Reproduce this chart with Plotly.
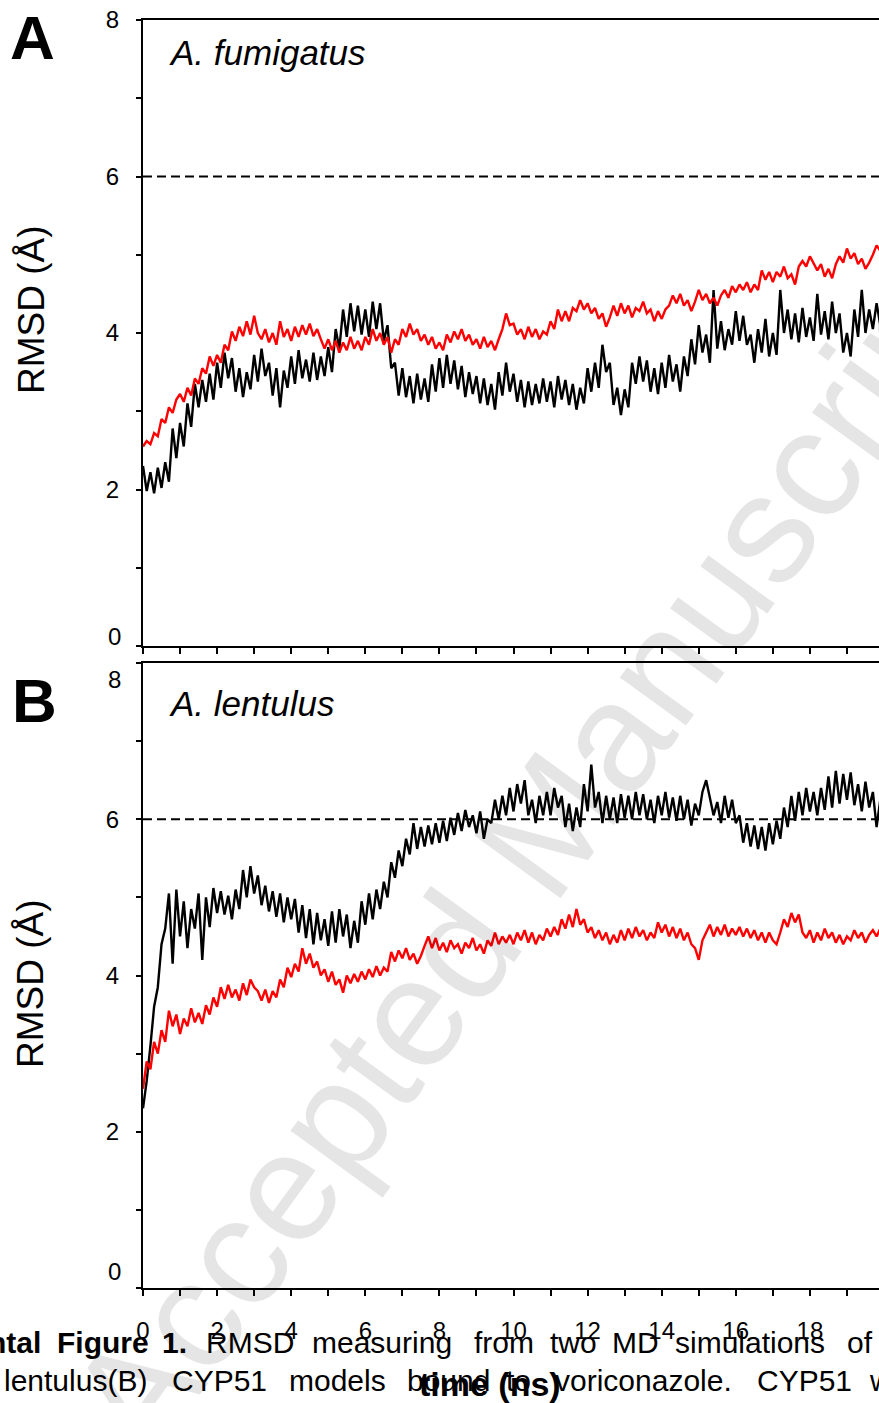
import plotly.graph_objects as go

# ---------------- data ----------------
time_ns = [round(i * 0.1, 1) for i in range(200)]

a_black = [2.30,1.98,2.22,1.95,2.28,2.02,2.35,2.10,2.78,2.40,
 2.85,2.55,3.10,2.80,3.35,3.05,3.40,3.12,3.48,3.15,
 3.62,3.30,3.75,3.42,3.68,3.25,3.55,3.18,3.50,3.28,
 3.72,3.38,3.80,3.45,3.62,3.20,3.55,3.05,3.52,3.30,
 3.70,3.35,3.78,3.42,3.66,3.38,3.75,3.40,3.70,3.45,
 3.82,3.50,4.05,3.80,4.30,3.95,4.38,4.02,4.35,3.98,
 4.30,3.95,4.40,4.05,4.38,3.90,4.10,3.55,3.62,3.20,
 3.55,3.18,3.45,3.10,3.48,3.15,3.42,3.12,3.60,3.25,
 3.68,3.30,3.72,3.35,3.65,3.28,3.58,3.18,3.50,3.22,
 3.45,3.10,3.42,3.08,3.35,3.02,3.50,3.20,3.62,3.25,
 3.48,3.12,3.40,3.05,3.38,3.08,3.35,3.10,3.42,3.12,
 3.38,3.05,3.45,3.15,3.40,3.08,3.35,3.02,3.30,3.10,
 3.55,3.25,3.62,3.30,3.85,3.50,3.62,3.08,3.30,2.95,
 3.28,3.05,3.62,3.35,3.70,3.38,3.65,3.25,3.55,3.22,
 3.62,3.30,3.72,3.38,3.60,3.25,3.70,3.45,3.92,3.60,
 4.10,3.75,3.98,3.62,4.55,3.80,4.15,3.78,4.05,3.85,
 4.28,3.90,4.22,3.85,3.98,3.62,4.05,3.75,4.18,3.70,
 4.00,3.72,4.55,4.00,4.30,3.92,4.25,3.88,4.32,3.95,
 4.20,3.90,4.50,3.98,4.28,3.92,4.40,4.00,4.25,3.75,
 4.00,3.70,4.30,3.95,4.55,4.00,4.30,4.05,4.38,4.10]

a_red = [2.55,2.62,2.58,2.72,2.68,2.90,2.85,3.05,2.98,3.15,
 3.22,3.12,3.30,3.20,3.42,3.35,3.55,3.48,3.70,3.58,
 3.72,3.62,3.85,3.78,4.02,3.90,4.08,3.96,4.15,3.98,
 4.22,4.00,3.92,4.05,3.88,4.00,3.85,4.15,3.95,4.05,
 3.90,4.08,3.95,4.10,3.98,4.12,3.96,4.05,3.92,3.80,
 3.92,3.78,3.90,3.75,3.88,3.78,3.95,3.80,3.90,3.78,
 3.95,3.85,4.05,3.90,4.00,3.85,3.95,3.75,3.92,3.85,
 4.05,3.95,4.12,3.98,4.05,3.90,3.98,3.85,3.95,3.80,
 3.88,3.78,3.98,3.88,4.02,3.92,4.05,3.90,3.98,3.85,
 3.92,3.80,3.95,3.82,3.90,3.78,3.92,4.05,4.25,4.10,
 4.12,3.98,4.05,3.92,4.08,3.95,4.05,3.92,4.02,3.98,
 4.15,4.05,4.30,4.15,4.28,4.15,4.32,4.28,4.42,4.30,
 4.38,4.25,4.32,4.18,4.25,4.08,4.20,4.35,4.22,4.38,
 4.25,4.35,4.20,4.32,4.28,4.40,4.25,4.30,4.15,4.28,
 4.18,4.30,4.35,4.48,4.38,4.50,4.35,4.42,4.28,4.40,
 4.55,4.42,4.50,4.38,4.45,4.35,4.48,4.55,4.45,4.60,
 4.52,4.62,4.55,4.65,4.52,4.62,4.55,4.80,4.68,4.78,
 4.65,4.78,4.72,4.85,4.70,4.75,4.62,4.85,4.92,4.85,
 4.98,4.88,4.80,4.88,4.72,4.82,4.70,4.88,4.98,4.90,
 5.08,4.95,5.02,4.88,4.95,4.82,4.90,5.00,5.12,5.05]

b_black = [2.30,2.65,3.10,3.60,3.85,4.40,4.60,5.05,4.15,5.10,
 4.50,4.95,4.35,4.85,4.60,5.05,4.20,5.00,4.62,5.12,
 4.80,5.08,4.78,5.02,4.72,5.10,4.85,5.35,5.00,5.40,
 5.05,5.28,4.90,5.15,4.82,5.08,4.75,5.05,4.68,5.00,
 4.72,4.98,4.55,4.90,4.48,4.85,4.40,4.80,4.45,4.72,
 4.38,4.82,4.42,4.85,4.50,4.78,4.35,4.70,4.42,4.95,
 4.65,5.05,4.72,5.10,4.85,5.20,5.00,5.45,5.25,5.60,
 5.40,5.75,5.55,5.95,5.62,5.90,5.65,5.92,5.68,5.95,
 5.70,5.98,5.72,6.02,5.80,6.08,5.85,6.12,5.90,6.05,
 5.82,6.10,5.75,6.00,5.95,6.25,6.00,6.30,6.05,6.40,
 6.10,6.45,6.20,6.50,6.05,6.25,5.95,6.30,6.05,6.35,
 6.05,6.40,6.15,6.30,5.90,6.20,5.85,6.15,5.90,6.45,
 6.10,6.70,6.15,6.35,5.95,6.30,6.00,6.28,5.95,6.32,
 6.02,6.30,6.00,6.35,6.05,6.32,6.00,6.25,5.95,6.30,
 6.05,6.35,6.02,6.28,5.98,6.30,6.00,6.25,5.92,6.20,
 6.05,6.35,6.50,6.25,6.05,6.22,5.95,6.30,6.02,6.25,
 5.95,6.05,5.70,5.95,5.65,5.92,5.62,5.90,5.60,5.95,
 5.68,5.98,5.75,6.15,5.90,6.30,5.98,6.35,6.05,6.40,
 6.10,6.35,6.05,6.40,6.12,6.55,6.15,6.62,6.20,6.58,
 6.25,6.60,6.18,6.45,6.10,6.48,6.15,6.35,5.90,6.25]

b_red = [2.55,2.90,2.80,3.15,3.00,3.30,3.15,3.55,3.35,3.50,
 3.25,3.45,3.35,3.58,3.40,3.52,3.38,3.62,3.50,3.72,
 3.60,3.85,3.70,3.88,3.72,3.82,3.68,3.90,3.75,3.95,
 3.85,3.80,3.68,3.82,3.65,3.80,3.72,3.95,3.85,4.10,
 3.98,4.15,4.05,4.35,4.15,4.28,4.10,4.18,4.00,4.08,
 3.92,4.05,3.88,3.95,3.78,4.00,3.90,4.02,3.92,4.05,
 3.95,4.08,3.98,4.12,4.00,4.10,4.05,4.30,4.18,4.32,
 4.22,4.35,4.20,4.28,4.15,4.25,4.38,4.50,4.35,4.48,
 4.32,4.42,4.30,4.45,4.35,4.40,4.28,4.42,4.35,4.48,
 4.32,4.40,4.28,4.45,4.38,4.55,4.40,4.50,4.42,4.52,
 4.40,4.55,4.45,4.58,4.42,4.55,4.40,4.52,4.45,4.60,
 4.50,4.62,4.52,4.72,4.60,4.78,4.62,4.85,4.65,4.72,
 4.55,4.62,4.48,4.58,4.45,4.55,4.40,4.52,4.42,4.58,
 4.45,4.60,4.48,4.62,4.50,4.58,4.45,4.55,4.48,4.68,
 4.55,4.65,4.50,4.62,4.48,4.60,4.45,4.55,4.40,4.35,
 4.20,4.45,4.55,4.65,4.50,4.62,4.52,4.65,4.50,4.60,
 4.52,4.62,4.50,4.60,4.48,4.58,4.45,4.55,4.42,4.55,
 4.45,4.40,4.55,4.72,4.62,4.80,4.68,4.78,4.55,4.48,
 4.58,4.42,4.55,4.45,4.60,4.48,4.55,4.42,4.52,4.40,
 4.50,4.45,4.58,4.48,4.55,4.42,4.52,4.58,4.50,4.60]

threshold = 6
y_tick_vals = [0, 2, 4, 6, 8]
a_tick_text = ["", "2", "4", "6", "8"]      # "0" of panel A is drawn slightly raised
b_tick_text = ["", "2", "4", "6", ""]       # "0" and "8" of panel B are drawn nudged
panel_titles = ["A. fumigatus", "A. lentulus"]
panel_letters = ["A", "B"]
y_title = "RMSD (Å)"
x_title = "time (ns)"
caption_line1_bold = [("ntal", 43, "right"), ("Figure", 55, "left"), ("1.", 160, "left")]
caption_line1 = [("RMSD", 204), ("measuring", 310), ("from", 472), ("two", 548),
                 ("MD", 610), ("simulations", 673), ("of", 845)]
caption_line2 = [("lentulus(B)", 2), ("CYP51", 170), ("models", 287), ("bound", 405),
                 ("to", 504), ("voriconazole.", 553), ("CYP51", 755), ("w", 867)]
watermark = "Accepted Manuscript"

# ---------------- layout geometry ----------------
W, H = 879, 1403
L, T, B = 143, 20, 115
PW, PH = W - L, H - T - B
XMAX = PW / 37.05
FONT = "Liberation Sans, Arial, Helvetica, sans-serif"


def px(xp):
    return (xp - L) / PW


def py(yp):
    return (H - B - yp) / PH


LW = 2.4
fig = go.Figure()
fig.add_trace(go.Scatter(x=time_ns, y=a_black, mode="lines", line=dict(color="#000000", width=LW),
                         xaxis="x", yaxis="y", showlegend=False))
fig.add_trace(go.Scatter(x=time_ns, y=a_red, mode="lines", line=dict(color="#ff0000", width=LW),
                         xaxis="x", yaxis="y", showlegend=False))
fig.add_trace(go.Scatter(x=time_ns, y=b_black, mode="lines", line=dict(color="#000000", width=LW),
                         xaxis="x2", yaxis="y2", showlegend=False))
fig.add_trace(go.Scatter(x=time_ns, y=b_red, mode="lines", line=dict(color="#ff0000", width=LW),
                         xaxis="x2", yaxis="y2", showlegend=False))

xcommon = dict(range=[0, XMAX], showline=True, linewidth=2, linecolor="black", mirror=True,
               ticks="outside", ticklen=6, tickwidth=2, tickcolor="black", tick0=0, dtick=2,
               minor=dict(dtick=1, ticks="outside", ticklen=6, tickwidth=2, tickcolor="black", showgrid=False),
               showgrid=False, zeroline=False, domain=[0, 1],
               tickfont=dict(family=FONT, size=24, color="black"))
ycommon = dict(range=[0, 8], showline=True, linewidth=2, linecolor="black",
               ticks="outside", ticklen=5, tickwidth=2, tickcolor="black",
               tickmode="array", tickvals=y_tick_vals,
               minor=dict(dtick=1, tick0=0, ticks="outside", ticklen=5, tickwidth=2, tickcolor="black", showgrid=False),
               showgrid=False, zeroline=False, ticklabelstandoff=12,
               tickfont=dict(family=FONT, size=24, color="black"))

fig.update_layout(
    width=W, height=H,
    margin=dict(l=L, r=0, t=T, b=B),
    paper_bgcolor="white", plot_bgcolor="white",
    xaxis=dict(**xcommon, anchor="y", showticklabels=False),
    yaxis=dict(**ycommon, anchor="x", domain=[py(646), 1.0], ticktext=a_tick_text),
    xaxis2=dict(**xcommon, anchor="y2", showticklabels=True, ticklabelstandoff=14),
    yaxis2=dict(**ycommon, anchor="x2", domain=[0.0, py(663)], ticktext=b_tick_text),
    font=dict(family=FONT, color="black"),
)

for yref in ["y", "y2"]:
    xref = "x" if yref == "y" else "x2"
    fig.add_shape(type="line", xref=xref, yref=yref, x0=0, x1=20, y0=threshold, y1=threshold,
                  line=dict(color="black", width=2, dash="9px,5px"), layer="below")

ann = []
# nudged tick labels
ann.append(dict(text=str(y_tick_vals[0]), x=px(123), y=py(636), xanchor="right", font=dict(size=24)))
ann.append(dict(text=str(y_tick_vals[4]), x=px(123), y=py(679), xanchor="right", font=dict(size=24)))
ann.append(dict(text=str(y_tick_vals[0]), x=px(123), y=py(1271), xanchor="right", font=dict(size=24)))
# panel letters
ann.append(dict(text="<b>%s</b>" % panel_letters[0], x=px(32), y=py(37), font=dict(size=62)))
ann.append(dict(text="<b>%s</b>" % panel_letters[1], x=px(34), y=py(700), font=dict(size=62)))
# panel titles
ann.append(dict(text="<i>%s</i>" % panel_titles[0], x=px(167), y=py(53), xanchor="left", font=dict(size=35)))
ann.append(dict(text="<i>%s</i>" % panel_titles[1], x=px(167), y=py(703), xanchor="left", font=dict(size=35)))
# y titles
ann.append(dict(text=y_title, x=px(31), y=py(310), textangle=-90, font=dict(size=37)))
ann.append(dict(text=y_title, x=px(31), y=py(984), textangle=-90, font=dict(size=37)))
# x title
ann.append(dict(text="<b>%s</b>" % x_title, x=px(490), y=py(1384), font=dict(size=34)))
# caption
for word, xp, anc in caption_line1_bold:
    ann.append(dict(text="<b>%s</b>" % word, x=px(xp), y=py(1342), xanchor=anc, font=dict(size=30)))
for word, xp in caption_line1:
    ann.append(dict(text=word, x=px(xp), y=py(1342), xanchor="left", font=dict(size=30)))
for word, xp in caption_line2:
    ann.append(dict(text=word, x=px(xp), y=py(1380), xanchor="left", font=dict(size=30)))
# watermark
ann.append(dict(text=watermark, x=px(530), y=py(850), textangle=-54,
                font=dict(size=155, color="rgba(0,0,0,0.1)")))

for a in ann:
    a.setdefault("xanchor", "center")
    a.setdefault("yanchor", "middle")
    a["xref"] = "paper"
    a["yref"] = "paper"
    a["showarrow"] = False
    f = a.get("font", {})
    f.setdefault("family", FONT)
    f.setdefault("color", "black")
    a["font"] = f
fig.update_layout(annotations=ann)

fig.write_html("out.html", config={"displayModeBar": False},
               post_script="document.body.style.margin='0';document.body.style.overflow='hidden';")
